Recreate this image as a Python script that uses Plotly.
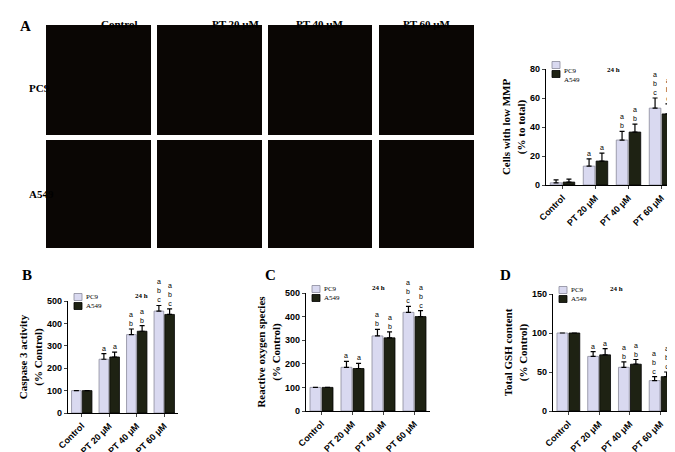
import plotly.graph_objects as go

W, H = 675, 452

categories = ["Control", "PT 20 μM", "PT 40 μM", "PT 60 μM"]
image_cols = ["Control", "PT 20 μM", "PT 40 μM", "PT 60 μM"]
image_rows = ["PC9", "A549"]

# panel A: cells with low MMP
mmp_pc9 = [1.5, 13, 31, 53]
mmp_pc9_err = [2, 5, 6, 7]
mmp_a549 = [2, 16.5, 36.5, 49]
mmp_a549_err = [2, 5.5, 5.5, 7]
# panel B: caspase 3
cas_pc9 = [100, 240, 350, 455]
cas_pc9_err = [0, 25, 25, 25]
cas_a549 = [100, 250, 365, 440]
cas_a549_err = [0, 22, 25, 25]
# panel C: ROS
ros_pc9 = [100, 185, 318, 418]
ros_pc9_err = [0, 25, 28, 25]
ros_a549 = [100, 180, 310, 400]
ros_a549_err = [0, 22, 25, 25]
# panel D: GSH
gsh_pc9 = [100, 70, 56, 39]
gsh_pc9_err = [0, 6, 7, 5]
gsh_a549 = [100, 72, 60, 44]
gsh_a549_err = [0, 8, 6, 6]

# significance letters per bar
letters = ["", "a", "a<br>b", "a<br>b<br>c"]

PC9_COL = "#d9d9f0"
A549_COL = "#1e2213"
SERIF = "Liberation Serif"
SANS = "Liberation Sans"


def px(x):
    return x / W


def py(y):
    return 1 - y / H


fig = go.Figure()

# chart geometry in pixels: (x0, x1, ytop, ybottom, ymax, dtick, ytitle)
panels = [
    (538, 670, 61, 177, 80, 20, "Cells with low MMP<br>(% to total)",
     mmp_pc9, mmp_pc9_err, mmp_a549, mmp_a549_err),
    (60, 170, 293, 405, 500, 100, "Caspase 3 activity<br>(% Control)",
     cas_pc9, cas_pc9_err, cas_a549, cas_a549_err),
    (298, 422, 285, 403, 500, 100, "Reactive oxygen species<br>(% Control)",
     ros_pc9, ros_pc9_err, ros_a549, ros_a549_err),
    (545, 668, 286, 403, 150, 50, "Total GSH content<br>(% Control)",
     gsh_pc9, gsh_pc9_err, gsh_a549, gsh_a549_err),
]

layout = {}
for i, (x0, x1, yt, yb, ymax, dt, ytitle, v1, e1, v2, e2) in enumerate(panels):
    n = "" if i == 0 else str(i + 1)
    xa, ya = "x" + n, "y" + n
    for name, vals, errs, col, line in [("PC9", v1, e1, PC9_COL, "#8a8a9a"),
                                         ("A549", v2, e2, A549_COL, "#000000")]:
        fig.add_trace(go.Bar(
            x=categories, y=vals, name=name, xaxis=xa, yaxis=ya, showlegend=False,
            marker=dict(color=col, line=dict(color=line, width=0.8)),
            error_y=dict(type="data", array=errs, arrayminus=[0] * 4,
                         symmetric=False, color="#000", thickness=1.2, width=2.5),
        ))
        off = -0.2 if name == "PC9" else 0.2
        for k in range(4):
            if letters[k]:
                fig.add_annotation(x=k + off, y=vals[k] + errs[k], xref=xa, yref=ya,
                                   text=letters[k], showarrow=False, yanchor="bottom",
                                   font=dict(family=SANS, size=7, color="black"))
    layout["xaxis" + n] = dict(domain=[px(x0), px(x1)], anchor=ya, showline=True,
                               linecolor="#000", linewidth=1.2, ticks="outside",
                               ticklen=3, tickangle=-45, automargin=False,
                               tickfont=dict(family=SANS, size=9, color="#000",
                                             weight="bold"))
    layout["yaxis" + n] = dict(domain=[py(yb), py(yt)], anchor=xa, range=[0, ymax],
                               dtick=dt, showline=True, linecolor="#000",
                               linewidth=1.2, ticks="outside", ticklen=3,
                               showgrid=False, zeroline=False, automargin=False,
                               tickfont=dict(family=SANS, size=9, color="#000",
                                             weight="bold"),
                               title=dict(text=ytitle, standoff=2,
                                          font=dict(family=SERIF, size=11,
                                                    color="#000", weight="bold")))
    # manual legend
    for j, (name, col, line) in enumerate([("PC9", PC9_COL, "#8a8a9a"),
                                           ("A549", A549_COL, "#000")]):
        ly = yt - 4 + j * 9
        fig.add_shape(type="rect", xref="paper", yref="paper",
                      x0=px(x0 + 6), x1=px(x0 + 14), y0=py(ly + 3.5), y1=py(ly - 3.5),
                      fillcolor=col, line=dict(color=line, width=0.8))
        fig.add_annotation(x=px(x0 + 16), y=py(ly), xref="paper", yref="paper",
                           text=name, showarrow=False, xanchor="left",
                           font=dict(family=SERIF, size=7, color="black"))
    fig.add_annotation(x=px((x0 + x1) / 2 + 10), y=py(yt - 5), xref="paper", yref="paper",
                       text="<b>24 h</b>", showarrow=False,
                       font=dict(family=SERIF, size=7, color="black"))

# microscopy panels (placeholders)
col_x = [(38, 143), (149, 254), (260, 364), (371, 466)]
row_y = [(17, 127), (132, 240)]
for (r0, r1) in row_y:
    for (c0, c1) in col_x:
        fig.add_shape(type="rect", xref="paper", yref="paper",
                      x0=px(c0), x1=px(c1), y0=py(r1), y1=py(r0),
                      fillcolor="#0a0604", line=dict(width=0))
for name, (c0, c1) in zip(image_cols, col_x):
    fig.add_annotation(x=px((c0 + c1) / 2), y=py(8), xref="paper", yref="paper",
                       text="<b>" + name + "</b>", showarrow=False,
                       font=dict(family=SERIF, size=11, color="black"))
for name, (r0, r1) in zip(image_rows, row_y):
    fig.add_annotation(x=px(19), y=py((r0 + r1) / 2), xref="paper", yref="paper",
                       text="<b>" + name + "</b>", showarrow=False,
                       font=dict(family=SERIF, size=11, color="black"))

for lab, x, y in [("A", 10, 8), ("B", 12, 267), ("C", 262, 267), ("D", 505, 267)]:
    fig.add_annotation(x=px(x), y=py(y), xref="paper", yref="paper", text="<b>" + lab + "</b>",
                       showarrow=False, font=dict(family=SERIF, size=15, color="black"))

fig.update_layout(width=W, height=H, margin=dict(l=0, r=0, t=0, b=0, autoexpand=False),
                  paper_bgcolor="white", plot_bgcolor="white",
                  barmode="group", bargap=0.22, bargroupgap=0.1, **layout)

fig.write_html("out.html")
